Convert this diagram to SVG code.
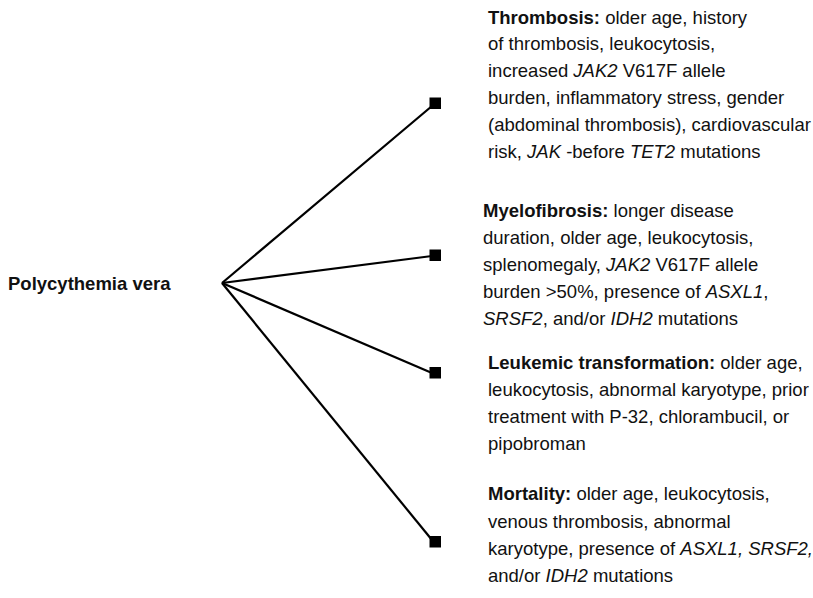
<svg xmlns="http://www.w3.org/2000/svg" width="813" height="598" viewBox="0 0 813 598">
<style>
text{font-family:"Liberation Sans",Arial,sans-serif;font-size:18.5px;fill:#111}
.b{font-weight:bold}
.i{font-style:italic}
.c{stroke:#000;stroke-width:2.2;fill:none}
.sq{fill:#000}
</style>
<rect width="813" height="598" fill="#fff"/>
<g id="connectors">
<line class="c" x1="222" y1="283" x2="432" y2="106"/>
<line class="c" x1="222" y1="283" x2="432" y2="256"/>
<line class="c" x1="222" y1="283" x2="432" y2="373"/>
<line class="c" x1="222" y1="283" x2="432" y2="540"/>
<rect class="sq" x="429.5" y="97.5" width="11.5" height="11.5"/>
<rect class="sq" x="429.5" y="249.5" width="11.5" height="11.5"/>
<rect class="sq" x="429.5" y="367" width="11.5" height="11.5"/>
<rect class="sq" x="429.5" y="536" width="11.5" height="11.5"/>
</g>
<g id="pv">
<text x="8" y="289.5" class="b">Polycythemia vera</text>
</g>
<g id="thrombosis">
<text x="488" y="23.5"><tspan class="b">Thrombosis:</tspan> older age, history</text>
<text x="488" y="50.3">of thrombosis, leukocytosis,</text>
<text x="488" y="77"><tspan>increased </tspan><tspan class="i">JAK2</tspan> V617F allele</text>
<text x="488" y="104">burden, inflammatory stress, gender</text>
<text x="488" y="131">(abdominal thrombosis), cardiovascular</text>
<text x="488" y="157.5">risk, <tspan class="i">JAK</tspan> -before <tspan class="i">TET2</tspan> mutations</text>
</g>
<g id="myelofibrosis">
<text x="483" y="217"><tspan class="b">Myelofibrosis:</tspan> longer disease</text>
<text x="483" y="244">duration, older age, leukocytosis,</text>
<text x="483" y="271">splenomegaly, <tspan class="i">JAK2</tspan> V617F allele</text>
<text x="483" y="298">burden &gt;50%, presence of <tspan class="i">ASXL1</tspan>,</text>
<text x="483" y="325"><tspan class="i">SRSF2</tspan>, and/or <tspan class="i">IDH2</tspan> mutations</text>
</g>
<g id="leukemic">
<text x="488" y="368.5"><tspan class="b">Leukemic transformation:</tspan> older age,</text>
<text x="488" y="395.5">leukocytosis, abnormal karyotype, prior</text>
<text x="488" y="422.5">treatment with P-32, chlorambucil, or</text>
<text x="488" y="449.5">pipobroman</text>
</g>
<g id="mortality">
<text x="488" y="500"><tspan class="b">Mortality:</tspan> older age, leukocytosis,</text>
<text x="488" y="527.5">venous thrombosis, abnormal</text>
<text x="488" y="555">karyotype, presence of <tspan class="i">ASXL1, SRSF2,</tspan></text>
<text x="488" y="582">and/or <tspan class="i">IDH2</tspan> mutations</text>
</g>
</svg>
